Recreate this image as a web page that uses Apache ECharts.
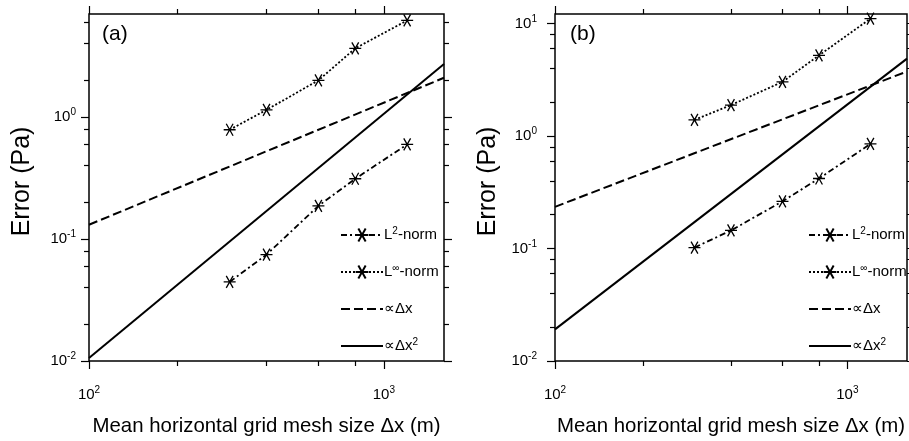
<!DOCTYPE html>
<html>
<head>
    <meta charset="utf-8">
    <script src="https://cdn.jsdelivr.net/npm/echarts@6/dist/echarts.min.js"></script>
    <style>
        html, body { margin: 0; padding: 0; background: #fff; }
        #chart { width: 909px; height: 441px; }
    </style>
</head>
<body>
    <div id="chart"></div>
    <script>
        // mesh sizes (m) and errors (Pa)
        const meshSize = [300, 400, 600, 800, 1200];
        const l2NormA = [0.0445, 0.0745, 0.187, 0.312, 0.597];
        const linfNormA = [0.787, 1.146, 2.0, 3.66, 6.2];
        const l2NormB = [0.102, 0.145, 0.263, 0.42, 0.853];
        const linfNormB = [1.395, 1.89, 3.04, 5.23, 11.1];

        // reference slopes, end points at the left and right edge
        const refX = [100, 1600];
        const firstOrderA = [0.131, 2.1];
        const secondOrderA = [0.0106, 2.72];
        const firstOrderB = [0.235, 3.76];
        const secondOrderB = [0.0191, 4.89];

        // ticks
        const xMajor = [100, 1000];
        const xMinor = [200, 400, 600, 800];
        const yMajor = [0.01, 0.1, 1, 10];
        const yMinor = [0.02, 0.04, 0.06, 0.08, 0.2, 0.4, 0.6, 0.8, 2, 4, 6, 8];
        const yMaxA = 7;
        const yMaxB = 12.2;

        const panelLabels = ['(a)', '(b)'];
        const legendText = {
            'L2-norm': 'L{sup|2}-norm',
            'Linf-norm': 'L{sup|\u221e}-norm',
            'dx1': '\u221d\u0394x',
            'dx2': '\u221d\u0394x{sup|2}'
        };

        const FONT = 'Liberation Sans, Arial, sans-serif';
        const asterisk = 'path://M-1,0L1,0M-0.57,-0.82L0.57,0.82M-0.57,0.82L0.57,-0.82';
        // tiny invisible marker so the legend shows a bare line
        const noMarker = 'path://M0,0L1,0L1,1Z';

        function powLabel(v) {
            return '10{sup|' + Math.round(Math.log10(v)) + '}';
        }

        const grids = [
            { left: 89, top: 14, width: 355, height: 356 },
            { left: 555, top: 14, width: 352, height: 356 }
        ];

        const tickLine = { color: '#000', width: 1.2 };

        function axisSet(dim, gridIndex, min, max, major, minor, labelMargin) {
            let sides = dim === 'x' ? ['bottom', 'top'] : ['left', 'right'];
            let base = {
                type: 'log',
                logBase: 10,
                gridIndex: gridIndex,
                min: min,
                max: max,
                splitLine: { show: false },
                axisLine: { show: false },
                axisLabel: { show: false }
            };
            let list = [];
            sides.forEach((side, i) => {
                let majorAxis = Object.assign({}, base, {
                    position: side,
                    axisTick: { show: true, inside: false, length: 8, customValues: major, lineStyle: tickLine }
                });
                if (i === 0) {
                    majorAxis.axisLabel = {
                        show: true,
                        customValues: major,
                        formatter: powLabel,
                        margin: labelMargin,
                        color: '#000',
                        fontFamily: FONT,
                        fontSize: 15,
                        lineHeight: 19,
                        rich: {
                            sup: { fontSize: 10, lineHeight: 11, verticalAlign: 'top', fontFamily: FONT, color: '#000' }
                        }
                    };
                    majorAxis.nameLocation = 'middle';
                    majorAxis.nameTextStyle = { fontFamily: FONT, color: '#000' };
                    if (dim === 'x') {
                        majorAxis.name = 'Mean horizontal grid mesh size \u0394x (m)';
                        majorAxis.nameGap = 55;
                        majorAxis.nameTextStyle.fontSize = 20.4;
                    } else {
                        majorAxis.name = 'Error (Pa)';
                        majorAxis.nameGap = 54;
                        majorAxis.nameTextStyle.fontSize = 25;
                        majorAxis.nameTextStyle.padding = [0, 0, 0, 12];
                    }
                }
                let minorAxis = Object.assign({}, base, {
                    position: side,
                    axisTick: { show: true, inside: false, length: 5, customValues: minor, lineStyle: tickLine }
                });
                list.push(majorAxis, minorAxis);
            });
            return list;
        }

        const xAxes = [].concat(
            axisSet('x', 0, refX[0], refX[1], xMajor, xMinor, 24),
            axisSet('x', 1, refX[0], refX[1], xMajor, xMinor, 24)
        );
        const yAxes = [].concat(
            axisSet('y', 0, 0.01, yMaxA, yMajor, yMinor, 13),
            axisSet('y', 1, 0.01, yMaxB, yMajor, yMinor, 18)
        );

        function pairs(xs, ys) {
            return xs.map((x, i) => [x, ys[i]]);
        }

        function panelSeries(p, l2, linf, first, second) {
            let common = {
                type: 'line',
                xAxisIndex: p * 4,
                yAxisIndex: p * 4,
                animation: false,
                silent: true
            };
            let marker = {
                symbol: asterisk,
                symbolSize: 12,
                itemStyle: { color: 'none', borderColor: '#000', borderWidth: 1.3 }
            };
            let plain = {
                symbol: noMarker,
                symbolSize: 1,
                showSymbol: false,
                itemStyle: { color: 'none', borderColor: 'none', borderWidth: 0 }
            };
            return [
                Object.assign({}, common, marker, {
                    name: 'L2-norm',
                    data: pairs(meshSize, l2),
                    lineStyle: { color: '#000', width: 1.8, type: [6, 3, 2, 3] }
                }),
                Object.assign({}, common, marker, {
                    name: 'Linf-norm',
                    data: pairs(meshSize, linf),
                    lineStyle: { color: '#000', width: 1.8, type: [2, 2] }
                }),
                Object.assign({}, common, plain, {
                    name: 'dx1',
                    data: pairs(refX, first),
                    lineStyle: { color: '#000', width: 2, type: [9, 4] }
                }),
                Object.assign({}, common, plain, {
                    name: 'dx2',
                    data: pairs(refX, second),
                    lineStyle: { color: '#000', width: 2, type: 'solid' }
                })
            ];
        }

        function legendFor(left) {
            return {
                orient: 'vertical',
                left: left,
                top: 226,
                padding: 0,
                itemWidth: 42,
                itemHeight: 16,
                itemGap: 19,
                selectedMode: false,
                data: ['L2-norm', 'Linf-norm', 'dx1', 'dx2'],
                formatter: name => legendText[name],
                textStyle: {
                    fontFamily: FONT,
                    fontSize: 15,
                    color: '#000',
                    lineHeight: 18,
                    padding: [0, 0, 0, -4],
                    rich: {
                        sup: { fontSize: 10, lineHeight: 10, verticalAlign: 'top', fontFamily: FONT, color: '#000' }
                    }
                }
            };
        }

        var chart = echarts.init(document.getElementById('chart'), null, { renderer: 'canvas' });
        var option = {
            backgroundColor: '#fff',
            animation: false,
            title: panelLabels.map((t, i) => ({
                text: t,
                left: i === 0 ? 102 : 570,
                top: 24,
                padding: 0,
                textStyle: { fontFamily: FONT, fontSize: 21, fontWeight: 'normal', color: '#000' }
            })),
            grid: grids.map(g => Object.assign({
                show: true,
                borderColor: '#000',
                borderWidth: 1.5,
                backgroundColor: 'transparent'
            }, g)),
            legend: [legendFor(340), legendFor(808)],
            xAxis: xAxes,
            yAxis: yAxes,
            series: [].concat(
                panelSeries(0, l2NormA, linfNormA, firstOrderA, secondOrderA),
                panelSeries(1, l2NormB, linfNormB, firstOrderB, secondOrderB)
            )
        };
        chart.setOption(option);
    </script>
</body>
</html>
